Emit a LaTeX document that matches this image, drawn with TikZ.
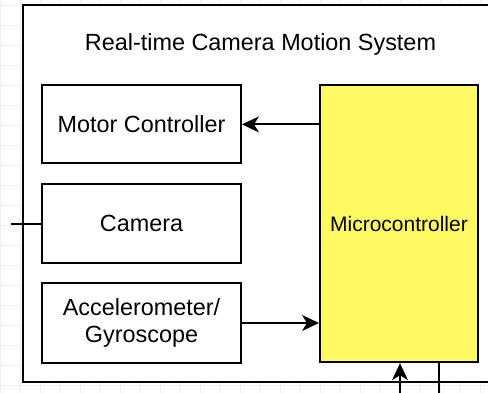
\documentclass[tikz,border=0pt]{standalone}
\usepackage{fontspec}
\setmainfont{Liberation Sans}
\usetikzlibrary{arrows.meta}
\definecolor{mcuyellow}{HTML}{FFF962}
\definecolor{gridgray}{HTML}{F0F0F0}
\tikzset{
  blockbox/.style={draw=black, line width=2pt, fill=white, inner sep=0pt,
    align=center, font=\fontsize{23.4}{27}\selectfont},
  mcubox/.style={blockbox, fill=mcuyellow, font=\fontsize{21}{25}\selectfont},
  framebox/.style={draw=black, line width=2pt, fill=white, inner sep=0pt},
  wire/.style={draw=black, line width=1.8pt},
  arrowwire/.style={wire, -{Stealth[length=17pt, width=16pt, inset=5pt]}},
  gridline/.style={draw=gridgray, line width=0.8pt}
}
\begin{document}
\begin{tikzpicture}[x=1pt, y=-1pt]
  \clip (0,0) rectangle (488,393);
  \fill[white] (0,0) rectangle (488,393);
  % background grid
  \foreach \gx in {0,20,...,480} \draw[gridline] (\gx,0) -- (\gx,393);
  \foreach \gy in {5,25,...,385} \draw[gridline] (0,\gy) -- (488,\gy);

  % system frame
  \node[framebox, minimum width=497.5pt, minimum height=376.5pt] (frame) at (271.25,193.75) {};
  \node[font=\fontsize{23.4}{27}\selectfont] (title) at (260.5,44) {Real-time Camera Motion System};

  % blocks
  \node[blockbox, minimum width=199pt, minimum height=78pt] (motor) at (141.5,124.4) {Motor Controller};
  \node[blockbox, minimum width=199pt, minimum height=79pt] (camera) at (141.5,223.7) {Camera};
  \node[blockbox, minimum width=199pt, minimum height=79pt] (accel) at (141.5,323) {Accelerometer/\\Gyroscope};
  \node[mcubox, minimum width=158pt, minimum height=277pt] (micro) at (399,223.7) {Microcontroller};

  % free ends
  \coordinate (camin) at (11,223.7);
  \coordinate (busA) at (400,400);
  \coordinate (busB) at (439,400);

  % connectors
  \draw[arrowwire] (micro.west |- motor.east) -- (motor.east);
  \draw[arrowwire] (accel.east) -- (accel.east -| micro.west);
  \draw[wire] (camin) -- (camera.west);
  \draw[arrowwire] (busA) -- (busA |- micro.south);
  \draw[wire] (micro.south -| busB) -- (busB);
\end{tikzpicture}
\end{document}
